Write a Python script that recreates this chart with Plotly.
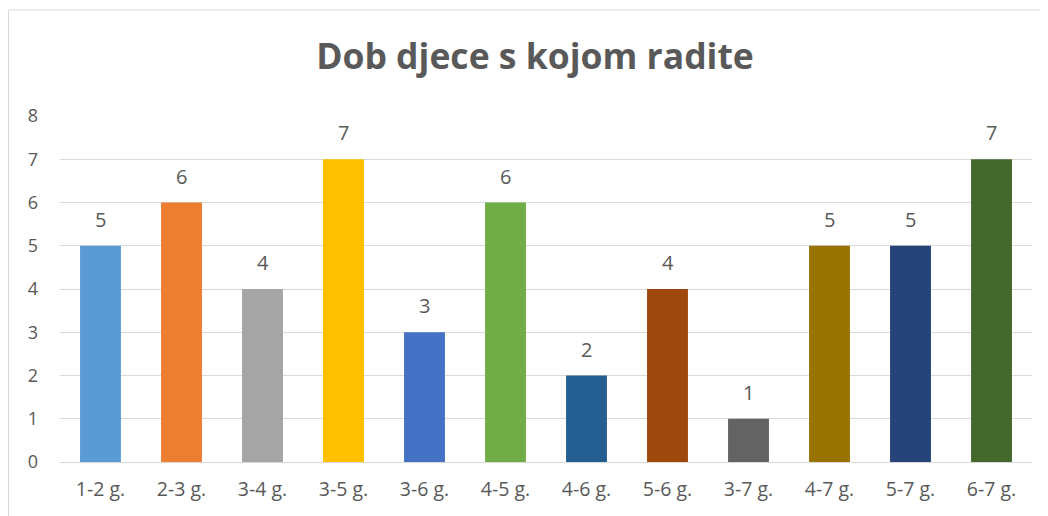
"""Dob djece s kojom radite - stupcasti graf."""
import plotly.graph_objects as go

categories = [
    "1-2 g.", "2-3 g.", "3-4 g.", "3-5 g.", "3-6 g.", "4-5 g.",
    "4-6 g.", "5-6 g.", "3-7 g.", "4-7 g.", "5-7 g.", "6-7 g.",
]
values = [5, 6, 4, 7, 3, 6, 2, 4, 1, 5, 5, 7]
bar_colors = [
    "#5B9BD5", "#ED7D31", "#A5A5A5", "#FFC000", "#4472C4", "#70AD47",
    "#255E91", "#9E480E", "#636363", "#997300", "#264478", "#43682B",
]

FONT = "Open Sans"
TEXT = "#595959"
GRID = "#D9D9D9"

# stranica ima 8px margine, pa je figura manja za toliko
W, H = 1040, 508
L, R, T, B = 52, 16, 108, 54
PW, PH = W - L - R, H - T - B

fig = go.Figure()
fig.add_trace(go.Bar(
    x=categories,
    y=values,
    marker=dict(color=bar_colors, line=dict(width=0)),
    hoverinfo="x+y",
))

# oznake vrijednosti iznad stupaca
for cat, val in zip(categories, values):
    fig.add_annotation(
        x=cat, y=val, text=str(val), showarrow=False,
        yanchor="bottom", yshift=11,
        font=dict(family=FONT, size=20, color=TEXT),
    )

# okvir grafa (lijevo i gore)
fx = -(L - 0.5) / PW
fy = (T - 2) / PH + 1
fig.add_shape(type="line", xref="paper", yref="paper",
              x0=fx, x1=1.05, y0=fy, y1=fy,
              line=dict(color=GRID, width=1))
fig.add_shape(type="line", xref="paper", yref="paper",
              x0=fx, x1=fx, y0=-0.3, y1=fy,
              line=dict(color=GRID, width=1))

fig.update_layout(
    width=W,
    height=H,
    margin=dict(l=L, r=R, t=T, b=B),
    paper_bgcolor="white",
    plot_bgcolor="white",
    bargap=0.495,
    showlegend=False,
    title=dict(
        text="<b>Dob djece s kojom radite</b>",
        x=(535 - 8) / W, xanchor="center", xref="container",
        y=1 - 49 / H, yanchor="middle",
        font=dict(family=FONT, size=35.5, color=TEXT),
    ),
    font=dict(family=FONT, size=18, color=TEXT),
)
fig.update_xaxes(
    showgrid=False,
    showline=True, linecolor=GRID, linewidth=1,
    ticks="", ticklabelstandoff=10,
    tickfont=dict(family=FONT, size=19.5, color=TEXT),
)
fig.update_yaxes(
    range=[0, 8], dtick=1,
    showgrid=True, gridcolor=GRID, gridwidth=1,
    zeroline=False, showline=False,
    ticks="", ticklabelstandoff=21,
    tickfont=dict(family=FONT, size=18, color=TEXT),
)

fig.write_html("out.html")
